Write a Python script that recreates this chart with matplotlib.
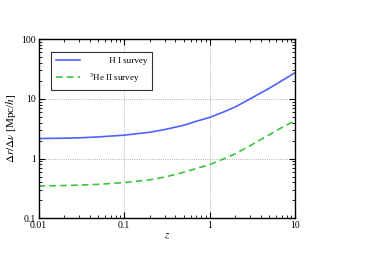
import numpy as np
import matplotlib
matplotlib.use("Agg")
from matplotlib import pyplot as plt
from matplotlib.ticker import LogLocator, NullFormatter, FixedLocator, FixedFormatter

# values
z = [0.01, 0.02, 0.03, 0.05, 0.1, 0.2, 0.3, 0.5, 0.7, 1, 1.5, 2, 3, 5, 7, 10]
hi_survey = [2.16, 2.19, 2.22, 2.3, 2.46, 2.75, 3.06, 3.6, 4.2, 4.87, 6.1, 7.3, 10.0, 15.0, 20.0, 27.3]
he_survey = [0.348, 0.353, 0.36, 0.37, 0.396, 0.44, 0.49, 0.59, 0.68, 0.79, 1.0, 1.2, 1.65, 2.5, 3.3, 4.28]

xticks = [0.01, 0.1, 1, 10]
xticklabels = ["0.01", "0.1", "1", "10"]
yticks = [0.1, 1, 10, 100]
yticklabels = ["0.1", "1", "10", "100"]

plt.rcParams['font.family'] = ['Liberation Serif', 'DejaVu Serif']
plt.rcParams['mathtext.fontset'] = 'stix'

fig = plt.figure(figsize=(3.74, 2.57), dpi=100)
ax = fig.add_axes([38.5 / 374, 1 - 218.3 / 257, (295 - 38.5) / 374, (218.3 - 39) / 257])

ax.plot(z, hi_survey, color='#4d63ff', lw=1.2, label='         H I survey')
ax.plot(z, he_survey, color='#3cc43c', lw=1.2, ls=(0, (4, 2.5)), label='$^3$He II survey')

ax.set_xscale('log')
ax.set_yscale('log')
ax.set_xlim(0.01, 10)
ax.set_ylim(0.1, 100)

ax.xaxis.set_major_locator(FixedLocator(xticks))
ax.xaxis.set_major_formatter(FixedFormatter(xticklabels))
ax.yaxis.set_major_locator(FixedLocator(yticks))
ax.yaxis.set_major_formatter(FixedFormatter(yticklabels))
ax.xaxis.set_minor_locator(LogLocator(base=10, subs=np.arange(2, 10)))
ax.yaxis.set_minor_locator(LogLocator(base=10, subs=np.arange(2, 10)))
ax.xaxis.set_minor_formatter(NullFormatter())
ax.yaxis.set_minor_formatter(NullFormatter())

ax.tick_params(which='both', direction='in', top=True, right=True, labelsize=7, pad=2)
ax.tick_params(which='major', length=4, width=0.8)
ax.tick_params(which='minor', length=2, width=0.6)
for s in ax.spines.values():
    s.set_linewidth(1.0)

ax.grid(True, which='major', color='#999999', ls=':', lw=0.6)

ax.set_xlabel('$z$', fontsize=8, labelpad=1)
ax.set_ylabel(r'$\Delta r/\Delta\nu$ [Mpc/$h$]', fontsize=8, labelpad=2)

leg = ax.legend(loc='upper left', bbox_to_anchor=(0.049, 0.927), borderaxespad=0,
                fontsize=6.5, fancybox=False, edgecolor='#333333', framealpha=1,
                handlelength=2.6, handletextpad=1.0, borderpad=0.55, labelspacing=0.65)
leg.get_frame().set_linewidth(0.8)

fig.savefig('out.png', dpi=100)
